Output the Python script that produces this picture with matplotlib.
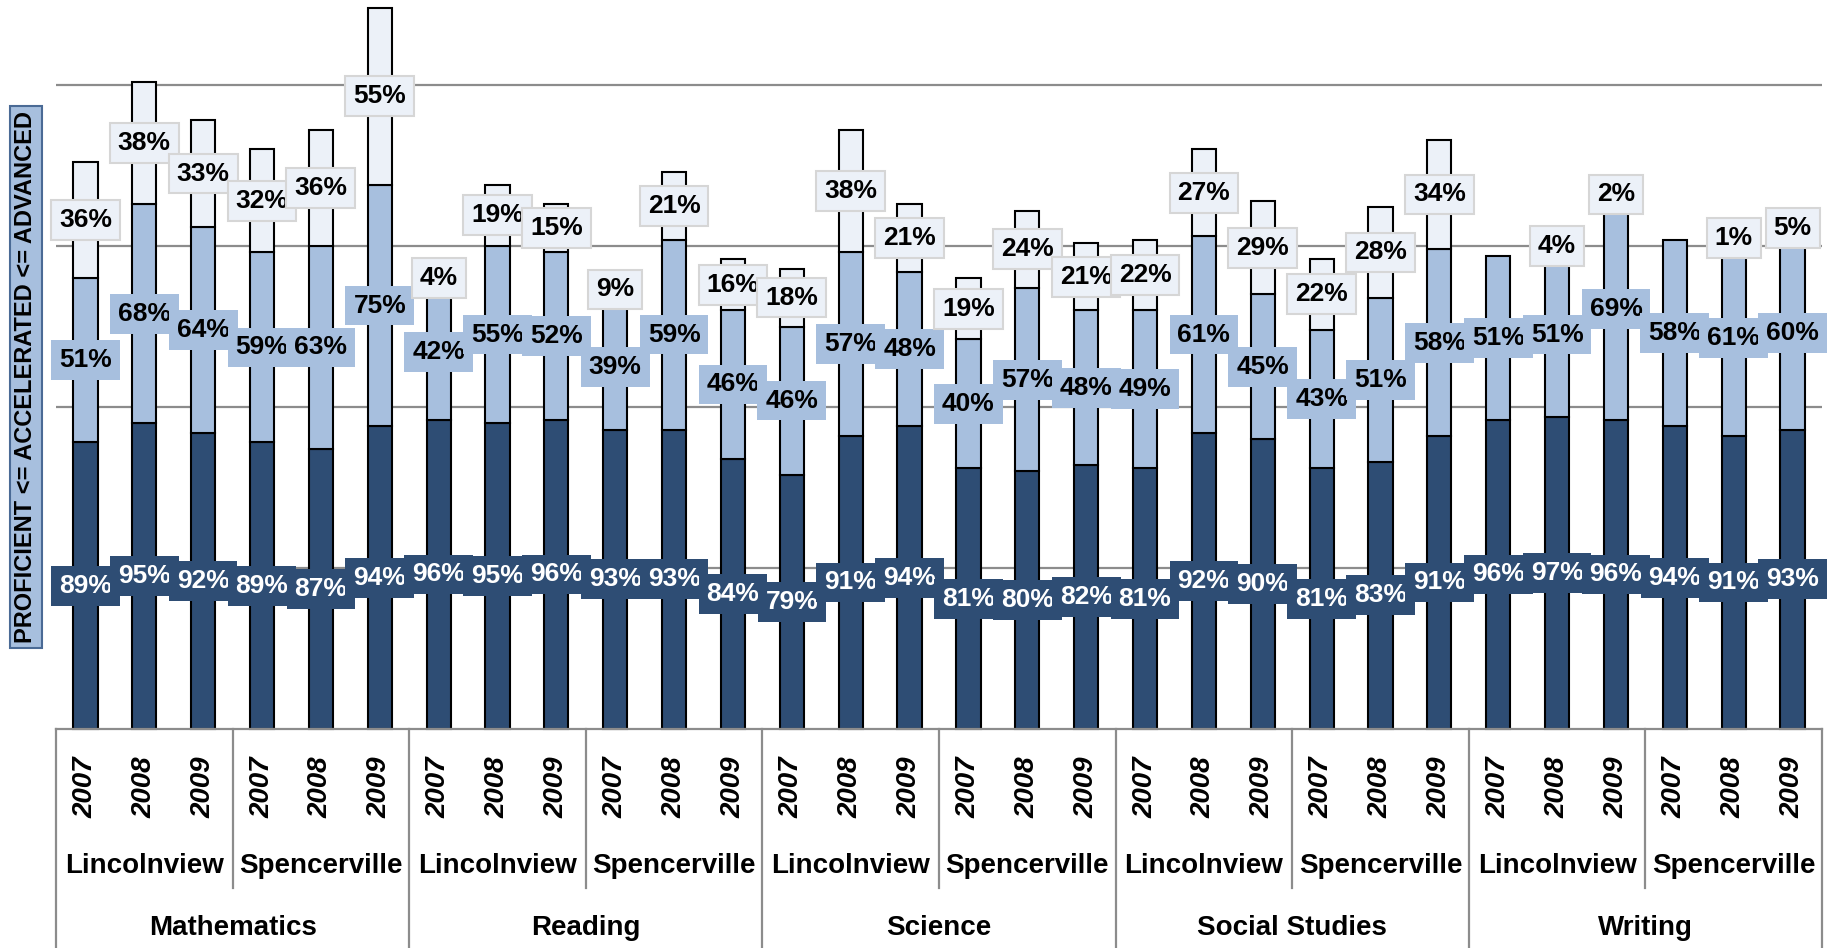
import matplotlib
matplotlib.use("Agg")
import matplotlib.pyplot as plt
import numpy as np

plt.rcParams['font.family'] = ['Liberation Sans', 'DejaVu Sans']

subjects = ["Mathematics", "Reading", "Science", "Social Studies", "Writing"]
schools = ["Lincolnview", "Spencerville"]
years = ["2007", "2008", "2009"]

proficient = [89, 95, 92, 89, 87, 94,
              96, 95, 96, 93, 93, 84,
              79, 91, 94, 81, 80, 82,
              81, 92, 90, 81, 83, 91,
              96, 97, 96, 94, 91, 93]
accelerated = [51, 68, 64, 59, 63, 75,
               42, 55, 52, 39, 59, 46,
               46, 57, 48, 40, 57, 48,
               49, 61, 45, 43, 51, 58,
               51, 51, 69, 58, 61, 60]
advanced = [36, 38, 33, 32, 36, 55,
            4, 19, 15, 9, 21, 16,
            18, 38, 21, 19, 24, 21,
            22, 27, 29, 22, 28, 34,
            0, 4, 2, 0, 1, 5]

c_dark = "#2e4d74"
c_mid = "#a7bfde"
c_light = "#ecf1f8"

W, H = 1837, 948
fig = plt.figure(figsize=(W / 100, H / 100), dpi=100)
ax_bottom_px = 729
ax = fig.add_axes([56 / W, (H - ax_bottom_px) / H, (1822 - 56) / W, ax_bottom_px / H])

n = len(proficient)
x = np.arange(n)
p = np.array(proficient)
a = np.array(accelerated)
d = np.array(advanced)
bw = 0.41

ax.bar(x, p, bw, color=c_dark, edgecolor="black", linewidth=1.5, zorder=2, clip_on=False)
ax.bar(x, a, bw, bottom=p, color=c_mid, edgecolor="black", linewidth=1.5, zorder=2, clip_on=False)
mask = d > 0
ax.bar(x[mask], d[mask], bw, bottom=(p + a)[mask], color=c_light, edgecolor="black",
       linewidth=1.5, zorder=2, clip_on=False)

fs = 19
for i in range(n):
    ax.text(x[i], p[i] / 2, f"{p[i]}%", ha="center", va="center", fontsize=fs,
            fontweight="bold", color="white", zorder=5,
            bbox=dict(boxstyle="square,pad=0.3", fc=c_dark, ec="none"))
    ax.text(x[i], p[i] + a[i] / 2, f"{a[i]}%", ha="center", va="center", fontsize=fs,
            fontweight="bold", color="black", zorder=5,
            bbox=dict(boxstyle="square,pad=0.3", fc=c_mid, ec="none"))
    if d[i] > 0:
        ax.text(x[i], p[i] + a[i] + d[i] / 2, f"{d[i]}%", ha="center", va="center",
                fontsize=fs, fontweight="bold", color="black", zorder=5,
                bbox=dict(boxstyle="square,pad=0.3", fc=c_light, ec="#d6d6d6", lw=1.5))

ymax = ax_bottom_px / (161 / 50)
ax.set_xlim(-0.5, n - 0.5)
ax.set_ylim(0, ymax)
for gy in [50, 100, 150, 200]:
    ax.axhline(gy, color="#8c8c8c", lw=1.6, zorder=1)
for s in ["top", "right", "left"]:
    ax.spines[s].set_visible(False)
ax.spines["bottom"].set_color("#8c8c8c")
ax.spines["bottom"].set_linewidth(1.6)
ax.set_xticks([])
ax.set_yticks([])

tr = ax.get_xaxis_transform()
axh = ax_bottom_px
def ay(px):
    return -(px - ax_bottom_px) / axh

# category table lines
lc = "#8c8c8c"
nsub = len(subjects)
for k in range(nsub + 1):
    xb = -0.5 + 6 * k
    ax.plot([xb, xb], [0, ay(948)], transform=tr, color=lc, lw=1.6, clip_on=False)
for k in range(nsub):
    xb = -0.5 + 6 * k + 3
    ax.plot([xb, xb], [0, ay(888)], transform=tr, color=lc, lw=1.6, clip_on=False)

for i in range(n):
    ax.text(x[i], ay(787), years[i % 3], transform=tr, ha="center", va="center",
            rotation=90, fontsize=20, fontweight="bold", fontstyle="italic")
for k in range(nsub * 2):
    ax.text(-0.5 + 3 * k + 1.5, ay(866), schools[k % 2], transform=tr, ha="center",
            va="center", fontsize=20, fontweight="bold")
for k in range(nsub):
    ax.text(-0.5 + 6 * k + 3, ay(928), subjects[k], transform=tr, ha="center",
            va="center", fontsize=20, fontweight="bold")

fig.text(26 / W, 1 - 377 / H, "PROFICIENT <= ACCELERATED <= ADVANCED", rotation=90,
         ha="center", va="center", fontsize=17, fontweight="bold",
         bbox=dict(boxstyle="square,pad=0.2", fc=c_mid, ec="#4a6a95", lw=1.5))

fig.savefig("out.png", dpi=100)
